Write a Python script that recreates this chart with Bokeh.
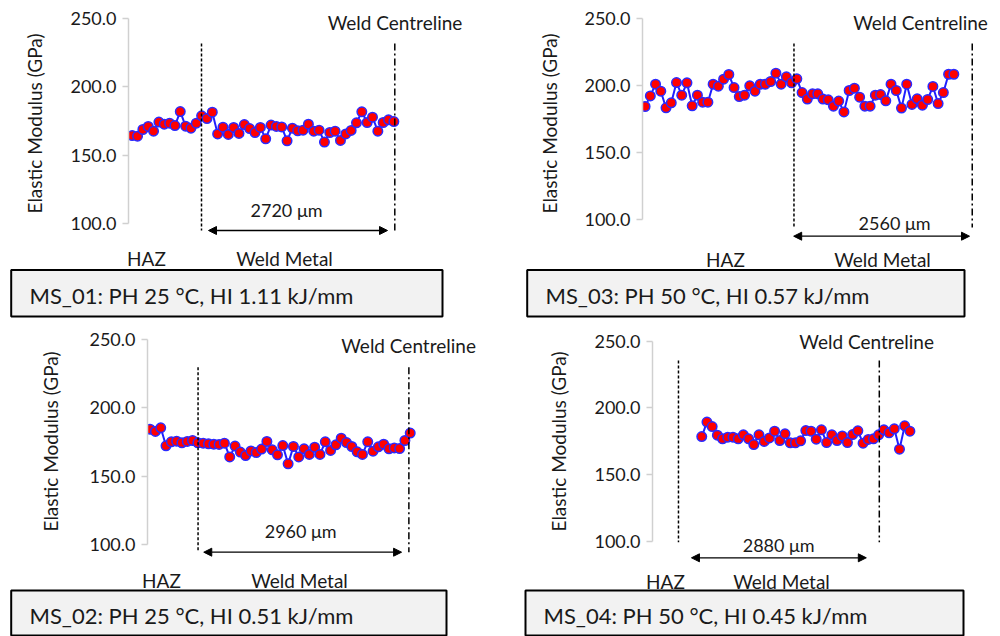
import numpy as np
from bokeh.plotting import figure
from bokeh.models import Range1d, Label, Arrow, NormalHead, FixedTicker, NumeralTickFormatter
from bokeh.layouts import column, row
from bokeh.embed import file_html
from bokeh.resources import INLINE
from bokeh.core.properties import value

# ---------------- data (elastic modulus, GPa, per indent along the traverse) -------------
ms01_modulus = [164.4, 163.9, 168.8, 171.0, 167.6, 174.2, 172.7, 173.4, 171.7, 181.9,
                171.2, 169.8, 173.4, 178.8, 176.8, 181.4, 165.6, 170.5, 165.2, 170.3,
                165.9, 172.4, 169.5, 166.6, 170.3, 162.0, 172.0, 171.0, 170.7, 160.5,
                169.8, 167.8, 168.3, 172.7, 167.6, 168.3, 159.6, 166.6, 167.6, 160.8,
                165.6, 168.1, 173.7, 181.7, 173.9, 177.8, 167.6, 173.9, 175.9, 174.6]
ms03_modulus = [184.3, 192.2, 200.9, 195.7, 183.3, 187.0, 202.1, 192.7, 201.9, 184.8,
                192.7, 187.5, 187.5, 200.9, 199.4, 204.6, 208.1, 198.4, 191.7, 192.7,
                199.7, 195.7, 200.9, 200.9, 202.9, 209.1, 200.9, 206.4, 201.9, 204.9,
                194.7, 189.8, 193.7, 193.7, 189.8, 189.3, 184.5, 188.3, 180.3, 196.2,
                197.9, 191.2, 184.5, 184.5, 192.7, 193.2, 188.5, 200.9, 196.2, 183.1,
                200.9, 185.8, 190.0, 185.3, 189.5, 199.2, 186.5, 194.7, 208.3, 208.3]
ms02_modulus = [184.4, 182.7, 185.4, 172.2, 175.1, 175.6, 174.4, 175.4, 176.1, 174.4,
                174.1, 173.7, 173.4, 173.2, 174.1, 164.1, 172.0, 167.6, 165.1, 168.5,
                167.3, 169.8, 175.4, 169.3, 165.6, 172.4, 159.0, 171.7, 164.1, 170.0,
                165.9, 171.2, 165.9, 175.1, 168.8, 172.9, 177.8, 174.6, 171.7, 167.8,
                165.9, 175.1, 168.3, 171.5, 173.4, 170.0, 170.7, 170.2, 176.1, 181.5]
ms04_modulus = [178.6, 189.4, 186.1, 179.6, 176.9, 178.1, 178.1, 176.9, 179.9, 176.9,
                172.6, 179.9, 174.9, 177.6, 182.6, 175.6, 180.6, 173.9, 173.9, 175.4,
                183.1, 182.6, 176.6, 183.6, 174.1, 179.9, 175.6, 179.1, 174.1, 180.1,
                182.9, 173.6, 176.4, 176.9, 179.9, 183.6, 181.4, 184.4, 169.1, 186.6,
                182.6]

y_ticks = [100, 150, 200, 250]
captions = ["MS_01: PH 25 °C, HI 1.11 kJ/mm", "MS_03: PH 50 °C, HI 0.57 kJ/mm",
            "MS_02: PH 25 °C, HI 0.51 kJ/mm", "MS_04: PH 50 °C, HI 0.45 kJ/mm"]
weld_widths = ["2720 μm", "2560 μm", "2960 μm", "2880 μm"]
y_title = "Elastic Modulus (GPa)"

FONT = "Lato"
TXT = "#1a1a1a"
W, H = 500, 246
CAP_H = 72

# layout geometry in panel pixels (not data)
geoms = [
    dict(ax=128, y250=17.7, y100=223.3, x0=131.7, sp=5.34, haz=201.0, cl=394.3, ly=(43, 230),
         arr=(208, 387, 230), dim=(286, 209), wc=(394.5, 22), stand=21),
    dict(ax=141.7, y250=17.7, y100=219.3, x0=144.3, sp=5.237, haz=293.3, cl=471.7, ly=(43, 227),
         arr=(293, 469, 235.7), dim=(394, 222.7), wc=(420, 22), stand=20),
    dict(ax=146.7, y250=21, y100=226, x0=149.3, sp=5.313, haz=197.3, cl=408.3, ly=(48.7, 233.7),
         arr=(203, 401, 233.7), dim=(300, 212.7), wc=(408, 27), stand=24),
    dict(ax=151.7, y250=22.7, y100=223, x0=201, sp=5.208, haz=177.7, cl=378.7, ly=(42, 223.7),
         arr=(190.7, 365.7, 239.3), dim=(278, 226), wc=(366, 22.7), stand=21),
]
# caption strip geometry (strip pixels): box, caption text, HAZ / Weld Metal labels
cap_geoms = [
    dict(l=10.7, r=442, t=23.5, b=70, tx=29, ty=49, hz=(146, 12), wm=(284, 12)),
    dict(l=26.7, r=464, t=23.5, b=70, tx=45, ty=49, hz=(225, 13), wm=(382, 13)),
    dict(l=10.7, r=446, t=26, b=71, tx=29, ty=51, hz=(161, 16), wm=(299, 16)),
    dict(l=25, r=463, t=26, b=71, tx=43, ty=51, hz=(165, 16.7), wm=(281, 16.7)),
]


def panel(vals, g, dim_text):
    ax = g["ax"]

    def vy(py):
        return 250 - (py - g["y250"]) * 150 / (g["y100"] - g["y250"])

    def ix(px):
        return (px - g["x0"]) / g["sp"]

    p = figure(width=W, height=H, x_range=Range1d(ix(ax), ix(W)), y_range=Range1d(vy(H), vy(0)),
               output_backend="svg", toolbar_location=None, x_axis_location=None,
               min_border_left=int(round(ax)), min_border_right=0, min_border_top=0,
               min_border_bottom=0)
    p.outline_line_color = None
    p.grid.visible = False
    p.background_fill_color = "white"
    p.border_fill_color = "white"

    ya = p.yaxis[0]
    ya.bounds = (100, 250)
    ya.ticker = FixedTicker(ticks=y_ticks)
    ya.formatter = NumeralTickFormatter(format="0.0")
    ya.axis_line_color = "#d0d0d0"
    ya.axis_line_width = 1.5
    ya.major_tick_line_color = "#d0d0d0"
    ya.major_tick_line_width = 1.5
    ya.major_tick_out = 6
    ya.major_tick_in = 0
    ya.minor_tick_line_color = None
    ya.major_label_text_font = FONT
    ya.major_label_text_font_size = "18px"
    ya.major_label_text_color = TXT
    ya.major_label_standoff = 6
    ya.axis_label = y_title
    ya.axis_label_text_font = FONT
    ya.axis_label_text_font_size = "19px"
    ya.axis_label_text_font_style = "normal"
    ya.axis_label_text_color = TXT
    ya.axis_label_standoff = g["stand"]

    x = list(range(len(vals)))
    p.line(x, vals, line_color="#1f1fff", line_width=2)
    p.scatter(x, vals, size=9.5, fill_color="#ff0000", line_color="#2a2aff", line_width=1.5)

    y_top, y_bot = g["ly"]
    p.segment(x0=[ix(g["haz"])], y0=[vy(y_top)], x1=[ix(g["haz"])], y1=[vy(y_bot)],
              line_color="black", line_width=1.5, line_dash="3 2")
    p.segment(x0=[ix(g["cl"])], y0=[vy(y_top)], x1=[ix(g["cl"])], y1=[vy(y_bot)],
              line_color="black", line_width=1.5, line_dash="7 3 2 3")

    a0, a1, ay = g["arr"]
    p.add_layout(Arrow(x_start=ix(a0), x_end=ix(a1), y_start=vy(ay), y_end=vy(ay),
                       start=NormalHead(size=8, fill_color="black", line_color="black"),
                       end=NormalHead(size=8, fill_color="black", line_color="black"),
                       line_color="black", line_width=1.3))

    def lab(pos, text, size):
        p.add_layout(Label(x=ix(pos[0]), y=vy(pos[1]), text=text, text_align="center",
                           text_baseline="middle", text_font=FONT, text_font_size=size,
                           text_color=TXT))

    lab(g["dim"], dim_text, "18px")
    lab(g["wc"], "Weld Centreline", "19px")
    return p


def caption(text, c):
    p = figure(width=W, height=CAP_H, x_range=Range1d(0, W), y_range=Range1d(CAP_H, 0),
               output_backend="svg", toolbar_location=None, x_axis_location=None,
               y_axis_location=None, min_border=0)
    p.outline_line_color = None
    p.grid.visible = False
    p.quad(left=[c["l"]], right=[c["r"]], top=[c["t"]], bottom=[c["b"]],
           fill_color="#f2f2f2", line_color="black", line_width=2)
    p.text(x=[c["tx"]], y=[c["ty"]], text=[text], text_font=value(FONT),
           text_font_size=value("22px"), text_baseline="middle", text_color=TXT)
    for pos, t in ((c["hz"], "HAZ"), (c["wm"], "Weld Metal")):
        p.text(x=[pos[0]], y=[pos[1]], text=[t], text_font=value(FONT),
               text_font_size=value("19px"), text_baseline="middle", text_align="center",
               text_color=TXT)
    return p


series = [ms01_modulus, ms03_modulus, ms02_modulus, ms04_modulus]
panels = [panel(s, g, d) for s, g, d in zip(series, geoms, weld_widths)]
caps = [caption(t, c) for t, c in zip(captions, cap_geoms)]

layout = column(row(panels[0], panels[1]), row(caps[0], caps[1]),
                row(panels[2], panels[3]), row(caps[2], caps[3]))

open("out.html", "w").write(file_html(layout, INLINE))
